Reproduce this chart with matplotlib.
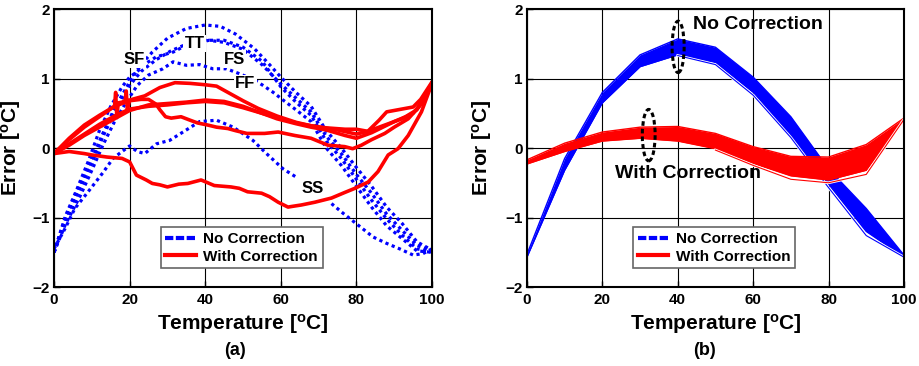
import numpy as np
import matplotlib
matplotlib.use('Agg')
import matplotlib.pyplot as plt
from matplotlib.patches import Ellipse
from matplotlib.lines import Line2D
import matplotlib.patheffects as pe

plt.rcParams['font.family'] = ['Liberation Sans', 'DejaVu Sans']
plt.rcParams['font.weight'] = 'bold'
plt.rcParams['mathtext.fontset'] = 'custom'
plt.rcParams['mathtext.rm'] = 'Liberation Sans:bold'
plt.rcParams['mathtext.it'] = 'Liberation Sans:bold'
plt.rcParams['mathtext.bf'] = 'Liberation Sans:bold'

# ---- (a) measured error, no correction (blue, dotted) ----
tt_x = [0, 3, 7, 10, 13, 16, 20, 23, 26, 30, 35, 40, 44, 48, 53, 57, 60, 64, 68, 72, 76, 80, 84, 88, 92, 96, 100]
tt_y = [-1.5, -1.0, -0.52, -0.15, 0.22, 0.57, 0.95, 1.2, 1.38, 1.58, 1.72, 1.77, 1.75, 1.64, 1.43, 1.2, 1.02, 0.8, 0.6, 0.25, 0.0, -0.28, -0.55, -0.85, -1.08, -1.35, -1.47]
fs_x = [0, 3, 7, 10, 13, 16, 20, 23, 27, 31, 34, 37, 41, 45, 50, 55, 60, 64, 68, 72, 76, 80, 84, 88, 92, 96, 100]
fs_y = [-1.5, -1.05, -0.58, -0.22, 0.17, 0.52, 0.9, 1.1, 1.27, 1.4, 1.47, 1.5, 1.55, 1.52, 1.42, 1.2, 0.92, 0.72, 0.52, 0.17, -0.08, -0.38, -0.65, -0.95, -1.18, -1.4, -1.48]
sf_x = [0, 3, 6, 9, 12, 15, 18, 20, 22, 24.4, 27, 31.5, 35, 40, 45, 50, 55, 60, 64, 68, 72, 76, 80, 84, 88, 92, 96, 100]
sf_y = [-1.5, -0.98, -0.6, -0.2, 0.25, 0.6, 0.88, 1.02, 1.1, 1.22, 1.31, 1.38, 1.48, 1.55, 1.55, 1.45, 1.25, 0.88, 0.66, 0.47, 0.1, -0.15, -0.45, -0.75, -1.02, -1.25, -1.45, -1.5]
ff_x = [0, 3, 7, 10, 13, 16, 19, 22, 25, 28.8, 31.5, 35, 38.5, 42, 45.6, 49, 53, 55.3, 58, 60.6, 64, 68, 72, 76, 80, 84, 88, 92, 96, 100]
ff_y = [-1.5, -1.1, -0.68, -0.32, 0.05, 0.38, 0.65, 0.9, 1.05, 1.14, 1.24, 1.19, 1.2, 1.14, 1.14, 1.07, 0.98, 0.9, 0.8, 0.69, 0.55, 0.38, 0.0, -0.25, -0.55, -0.85, -1.12, -1.3, -1.48, -1.5]
ss_x = [0, 3, 5.5, 8, 10.3, 13, 15.6, 18, 20, 22, 24, 27.1, 30.6, 35, 38.5, 43, 47.4, 52.6, 56.2, 60.6, 64.1,
        73.4, 76.5, 80, 84.4, 87.9, 91.4, 95, 97.6, 100]
ss_y = [-1.45, -1.15, -0.87, -0.7, -0.54, -0.35, -0.15, -0.05, 0.03, -0.05, -0.08, 0.06, 0.11, 0.26, 0.38, 0.4, 0.3, 0.11, -0.08, -0.3, -0.42,
        -0.8, -0.94, -1.09, -1.28, -1.37, -1.45, -1.54, -1.52, -1.45]
ss_gap = [64.1, 73.4]  # trace interrupted around the SS label

# ---- (a) with correction (red, solid) ----
r1_x = [0, 4, 8, 12, 16, 16.3, 16.6, 17, 18, 18.8, 19.1, 19.4, 20, 24, 28, 32, 36, 40, 43, 46, 50, 54, 59, 64, 68, 72, 77, 80, 83, 86, 88, 91, 93, 95, 97, 100]
r1_y = [-0.08, 0.14, 0.33, 0.47, 0.6, 0.8, 0.45, 0.65, 0.66, 0.68, 0.82, 0.55, 0.69, 0.75, 0.87, 0.94, 0.93, 0.91, 0.89, 0.8, 0.68, 0.57, 0.46, 0.37, 0.32, 0.29, 0.27, 0.27, 0.24, 0.4, 0.52, 0.55, 0.57, 0.59, 0.7, 0.95]
r2_x = [0, 4, 8, 12, 16, 20, 25, 30, 35, 40, 45, 50, 55, 59, 64, 68, 72, 77, 80, 84, 87, 90, 93, 96, 100]
r2_y = [-0.08, 0.04, 0.18, 0.3, 0.42, 0.54, 0.62, 0.64, 0.66, 0.69, 0.67, 0.6, 0.5, 0.42, 0.35, 0.3, 0.26, 0.18, 0.14, 0.22, 0.3, 0.38, 0.45, 0.55, 0.94]
r3_x = [0, 4, 8, 12, 16, 20, 25, 30, 35, 40, 45, 50, 55, 60, 65, 70, 75, 80, 83, 86, 89, 92, 95, 98, 100]
r3_y = [-0.08, 0.06, 0.2, 0.34, 0.46, 0.56, 0.6, 0.62, 0.65, 0.67, 0.65, 0.58, 0.5, 0.42, 0.35, 0.3, 0.26, 0.2, 0.24, 0.3, 0.36, 0.42, 0.5, 0.7, 0.94]
r4_x = [0, 4, 8, 12, 16, 20, 23, 25, 27, 28, 29.5, 31, 33.6, 36, 38, 40.7, 43, 46, 48, 51, 55.7, 59.3, 63.7, 68, 72.5, 76.9, 79, 81.3, 84, 87.5, 90, 93.7, 97, 100]
r4_y = [-0.08, 0.12, 0.3, 0.45, 0.6, 0.68, 0.7, 0.7, 0.63, 0.55, 0.45, 0.43, 0.45, 0.4, 0.36, 0.33, 0.3, 0.28, 0.25, 0.21, 0.21, 0.23, 0.18, 0.14, 0.04, 0.02, -0.01, 0.04, 0.12, 0.21, 0.3, 0.42, 0.62, 0.92]
r5_x = [0, 4, 8, 10, 14, 18, 20, 21.8, 24.4, 26, 28, 30, 33, 35.4, 38.9, 42.4, 46.8, 49, 51.2, 54.9, 57, 59.3, 61.9, 63, 65.4, 69, 73.4, 76.9, 79.6, 83.1, 85.7, 88.4, 91, 93.7, 97.2, 100]
r5_y = [-0.08, -0.05, -0.08, -0.1, -0.13, -0.15, -0.2, -0.39, -0.46, -0.51, -0.53, -0.56, -0.52, -0.51, -0.46, -0.54, -0.56, -0.58, -0.63, -0.65, -0.7, -0.78, -0.85, -0.84, -0.82, -0.78, -0.72, -0.64, -0.58, -0.49, -0.34, -0.1, -0.01, 0.18, 0.52, 0.93]

corner_labels = ['SF', 'TT', 'FS', 'FF', 'SS']
corner_x = [21.3, 37.2, 47.7, 50.6, 68.4]
corner_y = [1.28, 1.5, 1.28, 0.93, -0.58]

# ---- (b) Monte Carlo bands ----
temp_b = [0, 10, 20, 30, 40, 50, 60, 70, 80, 90, 100]
nc_hi = [-1.53, -0.15, 0.80, 1.34, 1.57, 1.45, 1.02, 0.45, -0.30, -0.87, -1.54]
nc_lo = [-1.57, -0.32, 0.65, 1.17, 1.34, 1.23, 0.80, 0.18, -0.52, -1.20, -1.57]
nc_out_x = [40, 50, 60, 70, 80, 90, 100]
nc_out_y = [1.33, 1.20, 0.76, 0.15, -0.57, -1.26, -1.57]
wc_hi = [-0.17, 0.07, 0.23, 0.30, 0.31, 0.21, 0.02, -0.12, -0.13, 0.05, 0.43]
wc_lo = [-0.23, -0.05, 0.10, 0.14, 0.10, -0.01, -0.22, -0.40, -0.46, -0.32, 0.41]
wc_out_x = [50, 60, 70, 80, 90, 100]
wc_out_y = [-0.03, -0.25, -0.45, -0.50, -0.38, 0.41]

BLUE = '#0000ff'
RED = '#ff0000'

fig = plt.figure(figsize=(9.19, 3.66), dpi=100)
ax1 = fig.add_axes([0.0588, 0.2158, 0.4113, 0.7596])
ax2 = fig.add_axes([0.5734, 0.2158, 0.4102, 0.7596])


def style_axes(ax, ylab_x):
    ax.set_xlim(0, 100)
    ax.set_ylim(-2, 2)
    ax.set_xticks([0, 20, 40, 60, 80, 100])
    ax.set_yticks([-2, -1, 0, 1, 2])
    ax.grid(True, color='black', linewidth=0.8)
    ax.set_axisbelow(True)
    ax.tick_params(direction='in', length=4, width=1, labelsize=11, pad=4)
    ax.tick_params(axis='y', pad=3)
    for lab in ax.get_xticklabels() + ax.get_yticklabels():
        lab.set_fontweight('bold')
    for s in ax.spines.values():
        s.set_linewidth(1.5)
    ax.set_xlabel(r'Temperature [$^{\mathrm{o}}$C]', fontsize=15, fontweight='bold')
    ax.set_ylabel(r'Error [$^{\mathrm{o}}$C]', fontsize=15, fontweight='bold')
    ax.xaxis.set_label_coords(0.5, -0.09)
    ax.yaxis.set_label_coords(ylab_x, 0.5)


def add_legend(ax):
    h = [Line2D([], [], color=BLUE, lw=3, linestyle=(0, (2, 0.6))),
         Line2D([], [], color=RED, lw=3)]
    leg = ax.legend(h, ['No Correction', 'With Correction'], loc='lower left',
                    bbox_to_anchor=(0.262, 0.04), fontsize=11, handlelength=2.0,
                    handletextpad=0.5, borderpad=0.3, labelspacing=0.25,
                    fancybox=False, framealpha=1, edgecolor='#666666')
    leg.get_frame().set_linewidth(1.2)
    leg.set_zorder(10)


# panel (a)
dot = (0, (1, 1.1))
for xs, ys in [(tt_x, tt_y), (fs_x, fs_y), (sf_x, sf_y), (ff_x, ff_y)]:
    ax1.plot(xs, ys, color=BLUE, lw=2.3, linestyle=dot)
ss_x_a = np.array(ss_x)
ss_y_a = np.array(ss_y)
first = ss_x_a <= ss_gap[0]
ax1.plot(ss_x_a[first], ss_y_a[first], color=BLUE, lw=2.3, linestyle=dot)
ax1.plot(ss_x_a[~first], ss_y_a[~first], color=BLUE, lw=2.3, linestyle=dot)
for xs, ys in [(r1_x, r1_y), (r2_x, r2_y), (r3_x, r3_y), (r4_x, r4_y), (r5_x, r5_y)]:
    ax1.plot(xs, ys, color=RED, lw=2.6, solid_joinstyle='round')
for lab, lx, ly in zip(corner_labels, corner_x, corner_y):
    ax1.text(lx, ly, lab, fontsize=12, fontweight='bold', ha='center', va='center',
             bbox=dict(facecolor='white', edgecolor='none', pad=0.8), zorder=5)
style_axes(ax1, -0.083)
add_legend(ax1)
fig.text(0.256, 0.043, '(a)', fontsize=13, fontweight='bold', ha='center', va='center')

# panel (b): red band sits on top of the blue band
halo = [pe.Stroke(linewidth=2.0, foreground='white'), pe.Normal()]
ax2.fill_between(temp_b, nc_lo, nc_hi, color=BLUE, lw=0, zorder=2.0)
ax2.plot(temp_b, nc_hi, color=BLUE, lw=1, zorder=2.1)
ax2.plot(temp_b, nc_lo, color=BLUE, lw=1, zorder=2.1)
ax2.plot(nc_out_x, nc_out_y, color=BLUE, lw=0.8, path_effects=halo, zorder=2.2)
ax2.fill_between(temp_b, wc_lo, wc_hi, color=RED, lw=0, zorder=2.3)
ax2.plot(temp_b, wc_hi, color=RED, lw=1, zorder=2.4)
ax2.plot(temp_b, wc_lo, color=RED, lw=1, zorder=2.4)
ax2.plot(wc_out_x, wc_out_y, color=RED, lw=0.8, path_effects=halo, zorder=2.5)
ax2.add_patch(Ellipse((40.1, 1.455), 3.2, 0.74, fill=False, edgecolor='black',
                      lw=2.2, linestyle=(0, (1.5, 1)), zorder=6))
ax2.add_patch(Ellipse((32.3, 0.185), 3.4, 0.74, fill=False, edgecolor='black',
                      lw=2.2, linestyle=(0, (1.5, 1)), zorder=6))
ax2.text(44.1, 1.77, 'No Correction', fontsize=14, fontweight='bold', ha='left', va='center', zorder=7)
ax2.text(23.3, -0.36, 'With Correction', fontsize=14, fontweight='bold', ha='left', va='center', zorder=7)
style_axes(ax2, -0.0875)
add_legend(ax2)
fig.text(0.767, 0.043, '(b)', fontsize=13, fontweight='bold', ha='center', va='center')

fig.savefig('out.png', dpi=100)
